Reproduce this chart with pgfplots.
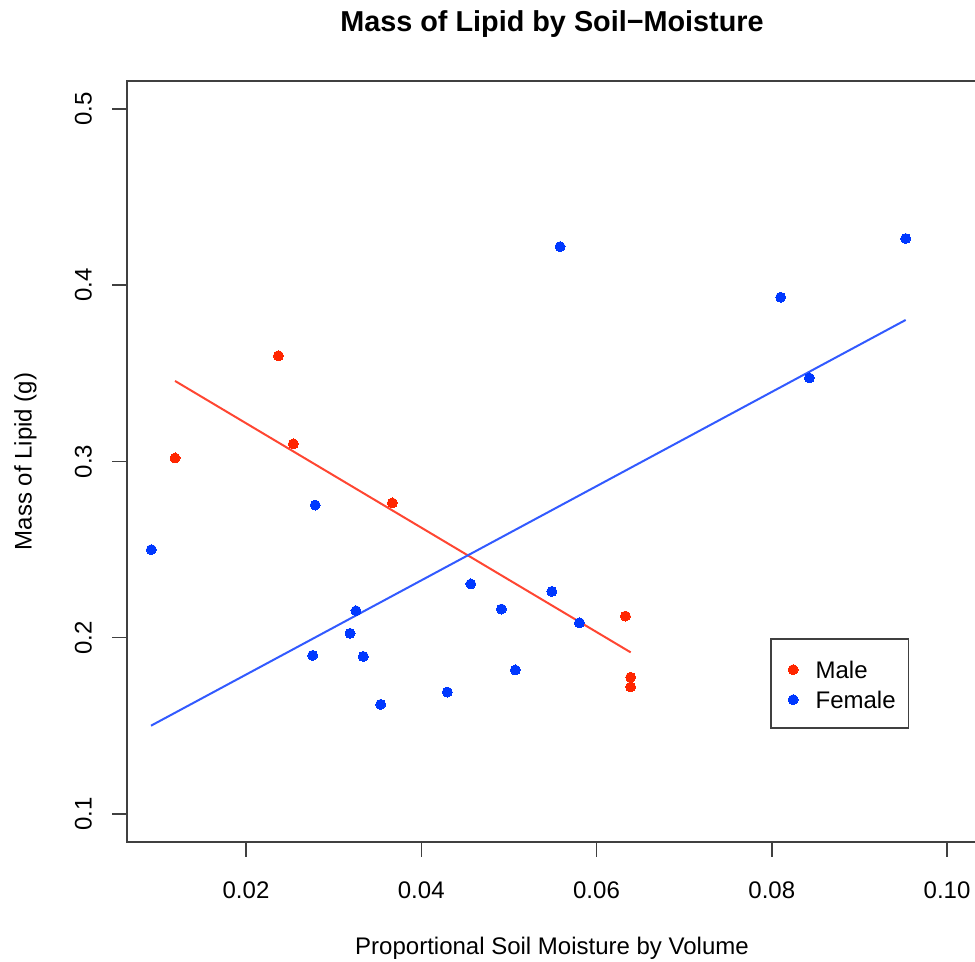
\documentclass[border=0pt]{standalone}
\usepackage{fontspec}
\setmainfont{Liberation Sans}
\usepackage{pgfplots}
\pgfplotsset{compat=1.18}
\definecolor{mred}{RGB}{255,38,0}
\definecolor{mblue}{RGB}{0,56,255}
\definecolor{lred}{RGB}{255,70,50}
\definecolor{lblue}{RGB}{50,90,255}
\begin{document}
\fontsize{12}{14.4}\selectfont
\begin{tikzpicture}[x=1pt,y=1pt]
\begin{axis}[
  at={(63.5pt,60pt)}, anchor=south west,
  scale only axis, width=425pt, height=380.5pt,
  xmin=0.006419, xmax=0.103424, ymin=0.084113, ymax=0.515887,
  axis line style={black!75, line width=0.75pt},
  tick style={black!75, line width=0.75pt},
  tick align=outside, major tick length=7.5pt,
  xtick pos=left, ytick pos=left,
  xtick={0.02,0.04,0.06,0.08,0.10}, xticklabels={0.02,0.04,0.06,0.08,0.10},
  ytick={0.1,0.2,0.3,0.4,0.5}, yticklabels={0.1,0.2,0.3,0.4,0.5},
  scaled ticks=false,
  /pgf/number format/assume math mode=true,
  xticklabel style={anchor=base, inner sep=0pt, yshift=-20.65pt, font=\fontsize{12}{14}\selectfont},
  yticklabel style={xshift=-10.15pt, rotate=90, anchor=base, inner sep=0pt, font=\fontsize{12}{14}\selectfont},
  legend cell align=left,
  legend image code/.code={\path (-10.8pt,0pt) (10.85pt,0pt); \draw[#1,mark size=2.5pt] plot coordinates {(0pt,4.3pt)};},
  legend style={at={(rel axis cs:0.7565,0.2677)}, anchor=north west, draw=black!75, line width=0.75pt,
    inner xsep=0pt, inner ysep=7.25pt, row sep=0pt, column sep=0pt,
    font=\fontsize{12}{14}\selectfont, cells={anchor=base west},
    nodes={inner sep=0pt, text height=12.4pt, text depth=2.6pt, text width=46.5pt, align=left}},
]
\addplot[only marks, mark=*, mark size=2.5pt, mred, mark options={draw=mred, fill=mred, line width=0pt}] coordinates {
(0.0237,0.3600) (0.0254,0.3100) (0.0119,0.3020) (0.0367,0.2765)
(0.0633,0.2123) (0.0639,0.1776) (0.0639,0.1721)
};
\addlegendentry{Male}
\addplot[only marks, mark=*, mark size=2.5pt, mblue, mark options={draw=mblue, fill=mblue, line width=0pt}] coordinates {
(0.0279,0.2753) (0.0092,0.2500) (0.03255,0.2153) (0.03187,0.2025)
(0.02761,0.1900) (0.03339,0.1894) (0.03537,0.1622) (0.04565,0.2305)
(0.04915,0.2163) (0.05490,0.2263) (0.05805,0.2085) (0.05073,0.1817)
(0.04297,0.1692) (0.05584,0.4219) (0.08102,0.3932) (0.09528,0.4265)
(0.08429,0.3474)
};
\addlegendentry{Female}
\addplot[lred, line width=1pt, forget plot] coordinates {(0.0119,0.3457) (0.0639,0.1917)};
\addplot[lblue, line width=1pt, forget plot] coordinates {(0.00916,0.1501) (0.09528,0.3803)};
\end{axis}
\node[anchor=base, inner sep=0pt, font=\bfseries\fontsize{14.4}{17}\selectfont] at (276,465.25) {Mass of Lipid by Soil−Moisture};
\node[anchor=base, inner sep=0pt] at (276,3.5) {Proportional Soil Moisture by Volume};
\node[anchor=base, rotate=90, inner sep=0pt] at (15.85,250.25) {Mass of Lipid (g)};
\pgfresetboundingbox
\path[use as bounding box] (0,0) rectangle (487.5,481);
\end{tikzpicture}
\end{document}
